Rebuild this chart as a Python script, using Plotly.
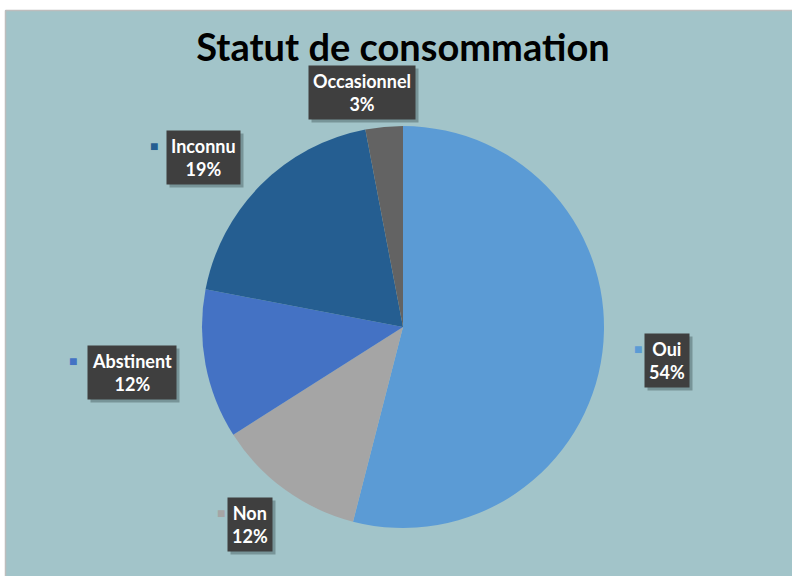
import math
import plotly.graph_objects as go

# data
labels = ["Oui", "Non", "Abstinent", "Inconnu", "Occasionnel"]
values = [54, 12, 12, 19, 3]
colors = ["#5B9BD5", "#A5A5A5", "#4472C4", "#255E91", "#636363"]

W, H = 792, 576
CX, CY, R = 403, 327, 201      # pie centre / radius in pixels
BG = "#A2C4C9"
FONT = "Lato, Open Sans, sans-serif"

# small pixel nudges so the boxes sit like the Excel ones
nudges = {
    "Oui": (5, 1),
    "Non": (1, -14),
    "Abstinent": (-14, -3),
    "Inconnu": (-15, 15),
    "Occasionnel": (-16, 26),
}
show_key = {"Occasionnel": False}


def px(x):
    return x / W


def py(y):
    return 1 - y / H


fig = go.Figure()

fig.add_trace(go.Pie(
    labels=labels,
    values=values,
    marker=dict(colors=colors, line=dict(width=0)),
    sort=False,
    direction="clockwise",
    textinfo="none",
    hoverinfo="label+percent",
    showlegend=False,
    domain=dict(x=[px(CX - R), px(CX + R)], y=[py(CY + R), py(CY - R)]),
))

# outside labels in dark boxes, placed from the slice mid-angles
total = sum(values)
cum = 0
annotations = []
for lab, val, col in zip(labels, values, colors):
    mid = cum + val / 2
    cum += val
    ang = math.radians(90 - mid / total * 360)
    dx, dy = nudges.get(lab, (0, 0))
    x = CX + 1.3 * R * math.cos(ang) + dx
    y = CY - 1.3 * R * math.sin(ang) + dy
    pct = round(val / total * 100)
    text = f"<b>{lab}<br>{pct}%</b>"

    # drop shadow
    annotations.append(dict(
        x=px(x), y=py(y), xref="paper", yref="paper", text=text,
        showarrow=False, xshift=3, yshift=-3,
        xanchor="center", yanchor="middle",
        font=dict(family=FONT, size=18, color="rgba(0,0,0,0)"),
        bgcolor="rgba(40,60,60,0.35)", borderpad=4,
    ))
    annotations.append(dict(
        x=px(x), y=py(y), xref="paper", yref="paper", text=text,
        showarrow=False, xanchor="center", yanchor="middle",
        font=dict(family=FONT, size=18, color="white"),
        bgcolor="#3F3F3F", borderpad=4,
    ))

    if show_key.get(lab, True):
        half_w = max(len(lab), len(f"{pct}%")) * 0.56 * 18 / 2 + 4
        annotations.append(dict(
            x=px(x - half_w - 4), y=py(y - 12), xref="paper", yref="paper",
            text="■", showarrow=False, xanchor="right", yanchor="middle",
            font=dict(size=14, color=col),
        ))

# white strip above / left of the chart area, with its grey edge
shapes = [
    dict(type="rect", xref="paper", yref="paper", x0=0, x1=1, y0=py(10), y1=1,
         fillcolor="white", line=dict(width=0), layer="below"),
    dict(type="rect", xref="paper", yref="paper", x0=0, x1=px(5), y0=0, y1=1,
         fillcolor="white", line=dict(width=0), layer="below"),
    dict(type="line", xref="paper", yref="paper", x0=px(5.5), x1=1, y0=py(10.5), y1=py(10.5),
         line=dict(color="#BDBDBD", width=1.5), layer="below"),
    dict(type="line", xref="paper", yref="paper", x0=px(5.5), x1=px(5.5), y0=0, y1=py(10.5),
         line=dict(color="#BDBDBD", width=1.5), layer="below"),
]

fig.update_layout(
    width=W,
    height=H,
    margin=dict(l=0, r=0, t=0, b=0),
    paper_bgcolor=BG,
    plot_bgcolor=BG,
    title=dict(
        text="<b>Statut de consommation</b>",
        x=px(CX), xanchor="center",
        y=py(48), yanchor="middle",
        font=dict(family=FONT, size=38, color="black"),
    ),
    annotations=annotations,
    shapes=shapes,
)

# drop the default body margin so the figure fills the window exactly
fig.write_html(
    "out.html",
    config={"displayModeBar": False},
    post_script="document.body.style.margin='0';document.body.style.overflow='hidden';",
)
